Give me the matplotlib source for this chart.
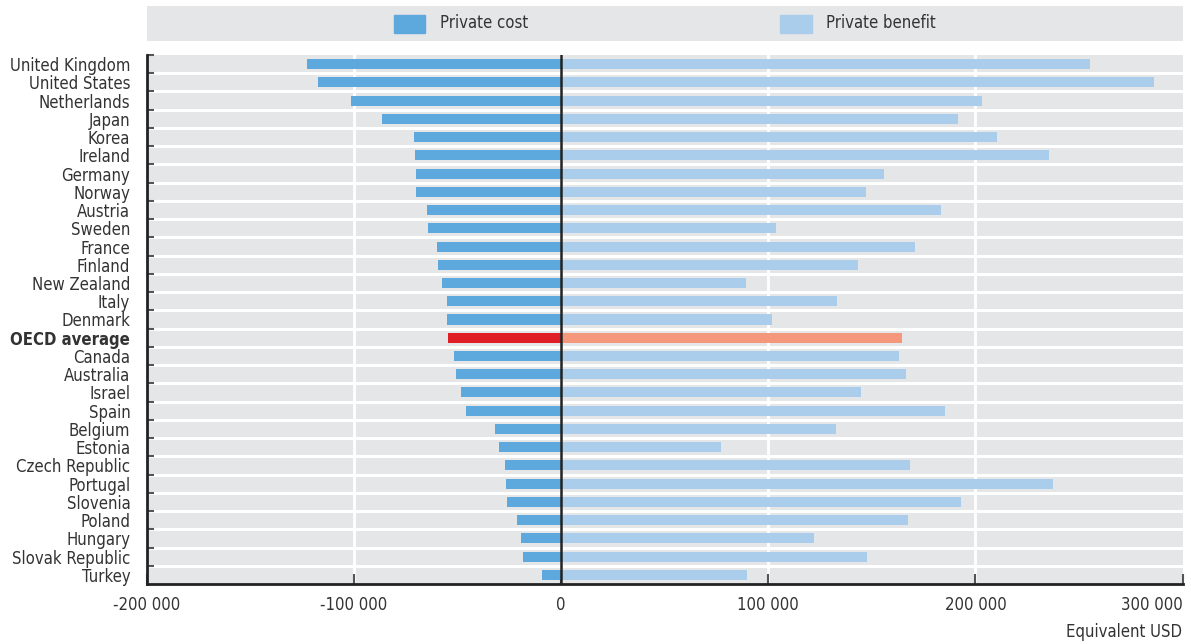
import matplotlib
matplotlib.use("Agg")
import matplotlib.pyplot as plt
from matplotlib.patches import Rectangle
from matplotlib import font_manager as fm
import numpy as np

countries = ["United Kingdom", "United States", "Netherlands", "Japan", "Korea", "Ireland",
             "Germany", "Norway", "Austria", "Sweden", "France", "Finland", "New Zealand",
             "Italy", "Denmark", "OECD average", "Canada", "Australia", "Israel", "Spain",
             "Belgium", "Estonia", "Czech Republic", "Portugal", "Slovenia", "Poland",
             "Hungary", "Slovak Republic", "Turkey"]
private_cost = [-122700, -117400, -101400, -86500, -71000, -70500, -70000, -70000, -64700,
                -64300, -59900, -59400, -57500, -55100, -55100, -54600, -51700, -50700,
                -48300, -45900, -31900, -30000, -27100, -26600, -26100, -21300, -19300,
                -18400, -9200]
private_benefit = [255100, 286000, 203400, 191800, 210600, 235300, 156000, 147300, 183600,
                   103900, 171000, 143500, 89400, 133300, 101900, 164700, 163300, 166700,
                   144900, 185500, 132900, 77300, 168600, 237700, 193200, 167600, 122200,
                   147800, 89900]
x_ticks = [-200000, -100000, 0, 100000, 200000, 300000]
x_tick_labels = ["-200 000", "-100 000", "0", "100 000", "200 000", "300 000"]

# choose a narrow font if available
names = {f.name for f in fm.fontManager.ttflist}
dejavu_cond = any(f.name == "DejaVu Sans" and "ondensed" in f.fname for f in fm.fontManager.ttflist)
if "Liberation Sans Narrow" in names:
    plt.rcParams['font.family'] = ['Liberation Sans Narrow', 'DejaVu Sans']
    FS = 13
elif dejavu_cond:
    plt.rcParams['font.family'] = ['DejaVu Sans']
    plt.rcParams['font.stretch'] = 'condensed'
    FS = 12
else:
    plt.rcParams['font.family'] = ['Roboto', 'DejaVu Sans']
    FS = 11.5

C_COST = "#5DA8DC"
C_BEN = "#AACDEC"
C_COST_HL = "#E01E26"
C_BEN_HL = "#F4977A"
BG = "#E5E6E8"
TXT = "#333333"

fig = plt.figure(figsize=(11.91, 6.44), dpi=100)
L, R = 147, 1182.5
ax = fig.add_axes([L/1191, 1-584/644, (R-L)/1191, (584-55)/644])
ax.set_facecolor(BG)

n = len(countries)
y = np.arange(n)
hl = countries.index("OECD average")
cost_colors = [C_COST_HL if i == hl else C_COST for i in range(n)]
ben_colors = [C_BEN_HL if i == hl else C_BEN for i in range(n)]

ax.set_xlim(-200000, 300000)
ax.set_ylim(n - 0.5, -0.5)

for xt in x_ticks[1:-1]:
    ax.axvline(xt, color="white", lw=2, zorder=1)
for b in np.arange(0.5, n - 0.5, 1):
    ax.axhline(b, color="white", lw=2.2, zorder=1)

ax.barh(y, private_benefit, height=0.55, color=ben_colors, zorder=2)
ax.barh(y, private_cost, height=0.55, color=cost_colors, zorder=2)
ax.axvline(0, color="#222222", lw=1.8, zorder=3)

ax.set_yticks(y)
ax.set_yticklabels(countries)
ax.tick_params(axis='y', length=0, pad=12, labelsize=FS, labelcolor=TXT)
for lbl in ax.get_yticklabels():
    if lbl.get_text() == "OECD average":
        lbl.set_fontweight("bold")
ax.set_yticks(np.arange(-0.5, n - 0.5, 1), minor=True)
ax.tick_params(axis='y', which='minor', direction='in', length=5, width=1.5, color="#555555")

ax.set_xticks(x_ticks)
ax.set_xticklabels(x_tick_labels)
ax.tick_params(axis='x', direction='in', length=7, width=1.5, color="#555555",
               labelsize=FS, labelcolor=TXT, pad=9)
ax.get_xticklabels()[-1].set_horizontalalignment('right')

for s in ["top", "right"]:
    ax.spines[s].set_visible(False)
for s in ["left", "bottom"]:
    ax.spines[s].set_linewidth(2)
    ax.spines[s].set_color("#222222")

fig.text(R/1191, 1-632/644, "Equivalent USD", ha="right", va="center",
         fontsize=FS, color=TXT)

# legend band
lax = fig.add_axes([L/1191, 1-41/644, (R-L)/1191, 35/644])
lax.set_facecolor(BG)
lax.set_xlim(L, R)
lax.set_ylim(41, 6)
for s in lax.spines.values():
    s.set_visible(False)
lax.set_xticks([])
lax.set_yticks([])
lax.add_patch(Rectangle((394, 14.5), 31, 18.5, color=C_COST))
lax.text(440, 23.5, "Private cost", va="center", ha="left", fontsize=FS, color=TXT)
lax.add_patch(Rectangle((780, 14.5), 32, 18.5, color=C_BEN))
lax.text(826, 23.5, "Private benefit", va="center", ha="left", fontsize=FS, color=TXT)

fig.savefig("out.png", dpi=100)
